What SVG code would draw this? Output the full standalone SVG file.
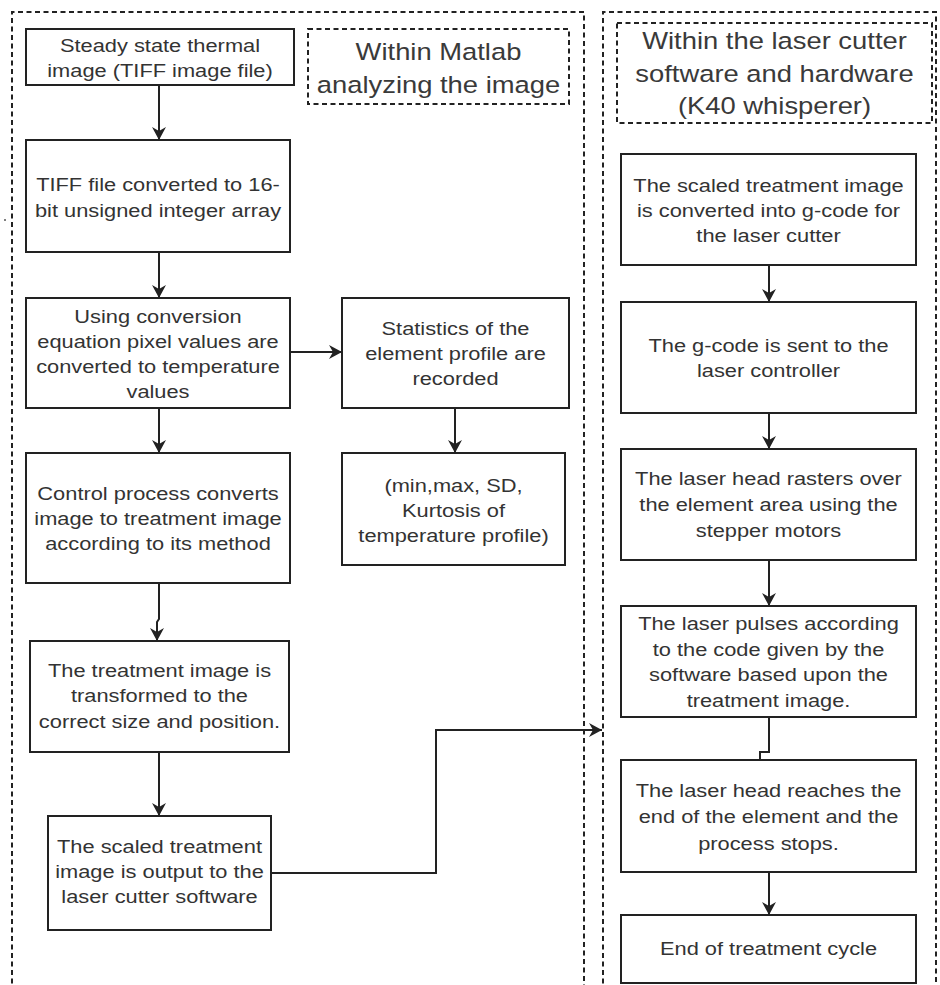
<svg xmlns="http://www.w3.org/2000/svg" width="940" height="985" viewBox="0 0 940 985">
<style>
.bg{fill:#ffffff}
.box{fill:#ffffff;stroke:#222;stroke-width:2}
.dash{fill:none;stroke:#222;stroke-width:2;stroke-dasharray:5 3.5}
.t{font-family:"Liberation Sans",Arial,sans-serif;font-size:18.5px;fill:#333;text-anchor:middle}
.lt{font-family:"Liberation Sans",Arial,sans-serif;font-size:23.5px;fill:#3a3a3a;text-anchor:middle}
.c{fill:none;stroke:#222;stroke-width:2}
</style>
<defs>
<marker id="arr" markerUnits="userSpaceOnUse" markerWidth="18" markerHeight="18" viewBox="-1 -9 16 18" refX="13" refY="0" orient="auto">
<path d="M0,-7 L13,0 L0,7 L4,0 z" fill="#222"/>
</marker>
</defs>
<rect class="bg" x="0" y="0" width="940" height="985"/>
<g id="containers">
<path class="dash" d="M12,992 V12 H584 V992"/>
<path class="dash" d="M603,992 V12 H936 V992"/>
<circle cx="5" cy="220" r="1" fill="#555"/>
</g>
<g id="label-matlab">
<rect class="dash" x="308" y="29" width="261" height="75"/>
<text class="lt" transform="translate(438.5 0) scale(1.165 1)"><tspan x="0" y="60">Within Matlab</tspan><tspan x="0" y="93">analyzing the image</tspan></text>
</g>
<g id="label-laser">
<rect class="dash" x="617" y="23" width="315" height="100"/>
<text class="lt" transform="translate(774.5 0) scale(1.165 1)"><tspan x="0" y="49">Within the laser cutter</tspan><tspan x="0" y="82">software and hardware</tspan><tspan x="0" y="114">(K40 whisperer)</tspan></text>
</g>
<g id="n1">
<rect class="box" x="26" y="29" width="268" height="56"/>
<text class="t" transform="translate(160 0) scale(1.18 1)"><tspan x="0" y="52.5">Steady state thermal</tspan><tspan x="0" y="77.5">image (TIFF image file)</tspan></text>
</g>
<g id="n2">
<rect class="box" x="26" y="140" width="264" height="112"/>
<text class="t" transform="translate(158 0) scale(1.18 1)"><tspan x="0" y="191.5">TIFF file converted to 16-</tspan><tspan x="0" y="217.5">bit unsigned integer array</tspan></text>
</g>
<g id="n3">
<rect class="box" x="26" y="298" width="264" height="110"/>
<text class="t" transform="translate(158 0) scale(1.18 1)"><tspan x="0" y="323.5">Using conversion</tspan><tspan x="0" y="348.5">equation pixel values are</tspan><tspan x="0" y="373.5">converted to temperature</tspan><tspan x="0" y="398.5">values</tspan></text>
</g>
<g id="n4">
<rect class="box" x="342" y="298" width="227" height="110"/>
<text class="t" transform="translate(455.5 0) scale(1.18 1)"><tspan x="0" y="335.5">Statistics of the</tspan><tspan x="0" y="360.5">element profile are</tspan><tspan x="0" y="385.5">recorded</tspan></text>
</g>
<g id="n5">
<rect class="box" x="342" y="453" width="223" height="112"/>
<text class="t" transform="translate(453.5 0) scale(1.18 1)"><tspan x="0" y="492.5">(min,max, SD,</tspan><tspan x="0" y="517.5">Kurtosis of</tspan><tspan x="0" y="542.5">temperature profile)</tspan></text>
</g>
<g id="n6">
<rect class="box" x="26" y="453" width="264" height="130"/>
<text class="t" transform="translate(158 0) scale(1.18 1)"><tspan x="0" y="500.5">Control process converts</tspan><tspan x="0" y="525.5">image to treatment image</tspan><tspan x="0" y="550.5">according to its method</tspan></text>
</g>
<g id="n7">
<rect class="box" x="30" y="641" width="259" height="111"/>
<text class="t" transform="translate(159.5 0) scale(1.18 1)"><tspan x="0" y="677.5">The treatment image is</tspan><tspan x="0" y="702.5">transformed to the</tspan><tspan x="0" y="728">correct size and position.</tspan></text>
</g>
<g id="n8">
<rect class="box" x="48" y="816" width="223" height="114"/>
<text class="t" transform="translate(159.5 0) scale(1.18 1)"><tspan x="0" y="853.5">The scaled treatment</tspan><tspan x="0" y="878.5">image is output to the</tspan><tspan x="0" y="903.5">laser cutter software</tspan></text>
</g>
<g id="r1">
<rect class="box" x="621" y="154" width="295" height="111"/>
<text class="t" transform="translate(768.5 0) scale(1.18 1)"><tspan x="0" y="192.5">The scaled treatment image</tspan><tspan x="0" y="217.5">is converted into g-code for</tspan><tspan x="0" y="242.5">the laser cutter</tspan></text>
</g>
<g id="r2">
<rect class="box" x="621" y="302" width="295" height="111"/>
<text class="t" transform="translate(768.5 0) scale(1.18 1)"><tspan x="0" y="352.5">The g-code is sent to the</tspan><tspan x="0" y="377.5">laser controller</tspan></text>
</g>
<g id="r3">
<rect class="box" x="621" y="449" width="295" height="111"/>
<text class="t" transform="translate(768.5 0) scale(1.18 1)"><tspan x="0" y="485.5">The laser head rasters over</tspan><tspan x="0" y="511.5">the element area using the</tspan><tspan x="0" y="537.5">stepper motors</tspan></text>
</g>
<g id="r4">
<rect class="box" x="621" y="606" width="295" height="111"/>
<text class="t" transform="translate(768.5 0) scale(1.18 1)"><tspan x="0" y="630.5">The laser pulses according</tspan><tspan x="0" y="656.5">to the code given by the</tspan><tspan x="0" y="681.5">software based upon the</tspan><tspan x="0" y="707.5">treatment image.</tspan></text>
</g>
<g id="r5">
<rect class="box" x="621" y="760" width="295" height="112"/>
<text class="t" transform="translate(768.5 0) scale(1.18 1)"><tspan x="0" y="797.5">The laser head reaches the</tspan><tspan x="0" y="823.5">end of the element and the</tspan><tspan x="0" y="850">process stops.</tspan></text>
</g>
<g id="r6">
<rect class="box" x="621" y="915" width="295" height="68"/>
<text class="t" transform="translate(768.5 0) scale(1.18 1)"><tspan x="0" y="955.5">End of treatment cycle</tspan></text>
</g>
<g id="connectors">
<path class="c" d="M159,85 V140" marker-end="url(#arr)"/>
<path class="c" d="M159,252 V298" marker-end="url(#arr)"/>
<path class="c" d="M159,408 V453" marker-end="url(#arr)"/>
<path class="c" d="M290,352 H342" marker-end="url(#arr)"/>
<path class="c" d="M455,408 V453" marker-end="url(#arr)"/>
<path class="c" d="M159,583 V619 L157,622 V641" marker-end="url(#arr)"/>
<path class="c" d="M159,752 V816" marker-end="url(#arr)"/>
<path class="c" d="M271,873 H436 V730 H602" marker-end="url(#arr)"/>
<path class="c" d="M769,265 V302" marker-end="url(#arr)"/>
<path class="c" d="M769,413 V449" marker-end="url(#arr)"/>
<path class="c" d="M769,560 V606" marker-end="url(#arr)"/>
<path class="c" d="M769,717 V752 H760 V760"/>
<path class="c" d="M769,872 V915" marker-end="url(#arr)"/>
</g>
</svg>
